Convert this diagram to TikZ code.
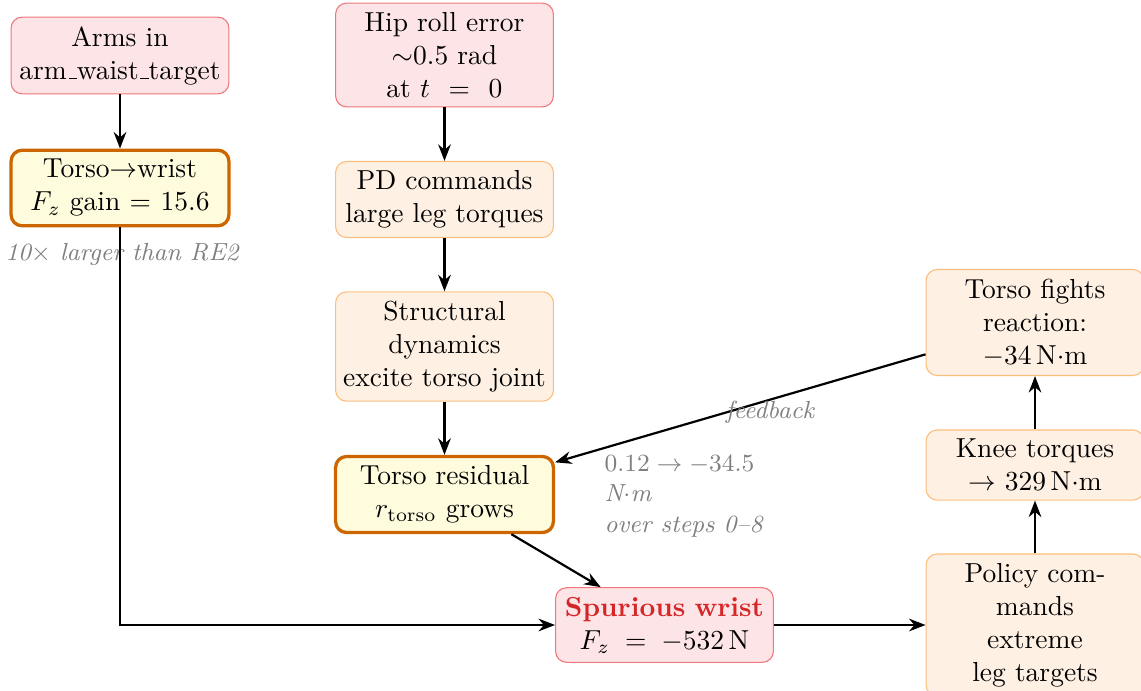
\documentclass[tikz,border=0pt]{standalone}
\usetikzlibrary{arrows.meta}
\definecolor{spur}{RGB}{214,39,40}
\definecolor{pinkfill}{RGB}{253,228,230}
\definecolor{pinkdraw}{RGB}{240,120,125}
\definecolor{orfill}{RGB}{254,241,228}
\definecolor{ordraw}{RGB}{253,190,125}
\definecolor{yelfill}{RGB}{255,252,222}
\definecolor{keydraw}{RGB}{204,102,0}
\newcommand\myus{\leavevmode\kern.06em\vbox{\hrule width.3em}}
\begin{document}
\begin{tikzpicture}[x=0.3636pt,y=-0.3636pt,
  box/.style={rounded corners=4pt, text width=76pt, align=center, inner xsep=1.6pt, inner ysep=3.33pt},
  pinkbox/.style={box, fill=pinkfill, draw=pinkdraw},
  orbox/.style={box, fill=orfill, draw=ordraw},
  keybox/.style={box, fill=yelfill, draw=keydraw, line width=1.2pt},
  arr/.style={-{Stealth[length=6pt,width=4.6pt]}, thick},
  note/.style={font=\small\itshape, text=black!50}]
\useasboundingbox (0,0) rectangle (1141,691);

\node[pinkbox] (arms) at (120,55.5) {Arms in\\arm\myus waist\myus target};
\node[keybox] (tw) at (120,188) {Torso$\to$wrist\\$F_z$ gain $=15.6$};
\node[note] (twnote) at (122,254) {10$\times$ larger than RE2};

\node[pinkbox] (hip) at (444.5,55) {Hip roll error\\$\sim$0.5 rad\\at $t\,=\,0$};
\node[orbox] (pd) at (444.5,199.5) {PD commands\\large leg torques};
\node[orbox] (st) at (444.5,346.5) {Structural\\dynamics\\excite torso joint};
\node[keybox] (res) at (444.5,494.5) {Torso residual\\$r_{\mathrm{torso}}$ grows};
\node[pinkbox] (sw) at (664.5,625) {{\bfseries\color{spur}Spurious wrist}\\$F_z\,=\,-532\,\mathrm{N}$};

\node[orbox] (pol) at (1035,625) {Policy com-\\mands\\extreme\\leg targets};
\node[orbox] (knee) at (1035,465) {Knee torques\\$\to$~$329\,\mathrm{N{\cdot}m}$};
\node[orbox] (tf) at (1035,322.5) {Torso fights\\reaction:\\$-34\,\mathrm{N{\cdot}m}$};

\node[note, anchor=north west, inner sep=0pt, align=left] (ann) at (604,455)
  {$0.12\to-34.5$\\N$\cdot$m\\over steps 0--8};

\draw[arr] (arms) -- (tw);
\draw[arr] (hip) -- (pd);
\draw[arr] (pd) -- (st);
\draw[arr] (st) -- (res);
\draw[arr] (res) -- (sw);
\draw[arr] (tw) |- (sw);
\draw[arr] (sw) -- (pol);
\draw[arr] (pol) -- (knee);
\draw[arr] (knee) -- (tf);
\draw[arr] (tf) -- node[note, pos=0.42, below, inner sep=0pt] (fb) {feedback} (res);
\end{tikzpicture}
\end{document}
